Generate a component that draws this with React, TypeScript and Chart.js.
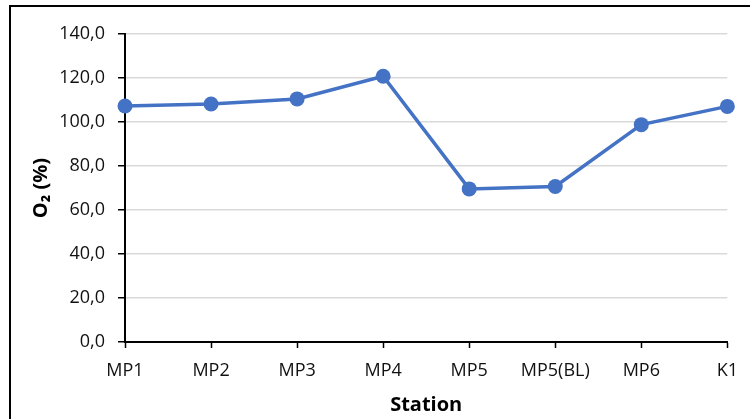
import React, { useEffect, useRef } from "react";
import { Chart, registerables } from "chart.js";

Chart.register(...registerables);

// Sampling stations along the x axis
const stations = ["MP1", "MP2", "MP3", "MP4", "MP5", "MP5(BL)", "MP6", "K1"];
// Oxygen saturation per station, in percent
const oxygenSaturation = [107.3, 108.2, 110.5, 120.8, 69.6, 70.7, 98.8, 107.1];
// Value axis range
const yMin = 0;
const yMax = 140;
const yStep = 20;

const FONT = "'Open Sans', 'Noto Sans', sans-serif";
const LINE_BLUE = "#4472C4";

export default function App() {
  const canvasRef = useRef<HTMLCanvasElement | null>(null);

  useEffect(() => {
    if (!canvasRef.current) return;
    const chart = new Chart(canvasRef.current, {
      type: "line",
      data: {
        labels: stations,
        datasets: [
          {
            data: oxygenSaturation,
            borderColor: LINE_BLUE,
            backgroundColor: LINE_BLUE,
            borderWidth: 3.5,
            pointRadius: 7.5,
            pointBorderWidth: 0,
            pointBackgroundColor: LINE_BLUE,
            tension: 0,
            clip: false as any,
          },
        ],
      },
      options: {
        animation: false,
        responsive: false,
        maintainAspectRatio: false,
        layout: { padding: { left: 0, right: 20, top: 34, bottom: 0 } },
        plugins: {
          legend: { display: false },
          tooltip: { enabled: false },
        },
        scales: {
          x: {
            type: "category",
            offset: false,
            afterFit: (s: any) => {
              s.height = 77;
            },
            grid: {
              drawOnChartArea: false,
              drawTicks: true,
              tickLength: 6,
              tickColor: "#000",
              tickWidth: 1.5,
            },
            border: { display: true, color: "#000", width: 2 },
            ticks: {
              padding: 12,
              color: "#111",
              font: { family: FONT, size: 18 },
              maxRotation: 0,
              autoSkip: false,
            },
            title: {
              display: true,
              text: "Station",
              color: "#000",
              font: { family: FONT, size: 20, weight: "bold" },
              padding: { top: 0, bottom: 2 },
            },
          },
          y: {
            min: yMin,
            max: yMax,
            afterFit: (s: any) => {
              s.width = 125;
            },
            grid: {
              color: "#d9d9d9",
              lineWidth: 1.5,
              drawTicks: true,
              tickLength: 7,
              tickColor: "#000",
              tickWidth: 1.5,
            },
            border: { display: true, color: "#000", width: 2 },
            ticks: {
              stepSize: yStep,
              padding: 13,
              color: "#111",
              font: { family: FONT, size: 18 },
              callback: (v: any) => Number(v).toFixed(1).replace(".", ","),
            },
            title: {
              display: true,
              text: "O\u2082 (%)",
              color: "#000",
              font: { family: FONT, size: 20, weight: "bold" },
              padding: { top: 29, bottom: 0 },
            },
          },
        },
      },
    });
    return () => chart.destroy();
  }, []);

  return (
    <div
      style={{
        position: "fixed",
        left: 0,
        top: 0,
        width: 750,
        height: 419,
        overflow: "hidden",
        background: "#fff",
      }}
    >
      <div
        style={{
          position: "absolute",
          left: 9,
          top: 5,
          width: 900,
          height: 600,
          border: "2px solid #000",
        }}
      />
      <canvas
        ref={canvasRef}
        width={750}
        height={419}
        style={{ position: "absolute", left: 0, top: 0, width: 750, height: 419 }}
      />
    </div>
  );
}
